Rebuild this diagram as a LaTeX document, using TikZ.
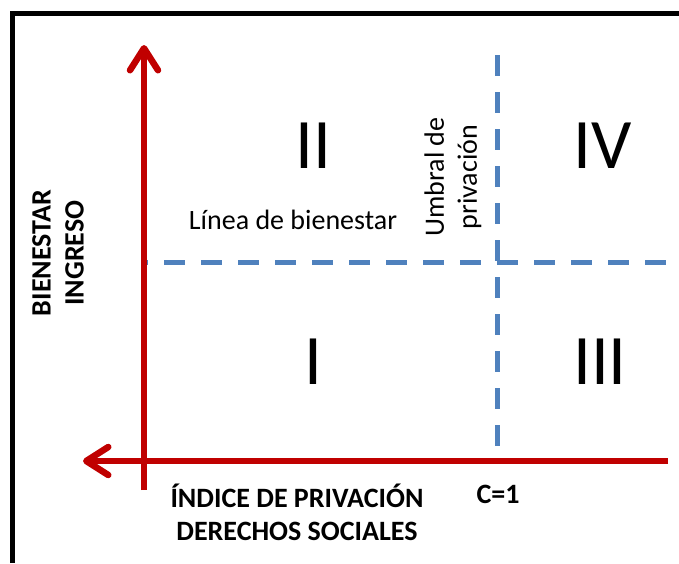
\documentclass[tikz,border=0pt]{standalone}
\usepackage{fontspec}
\setmainfont{Carlito}
\usepackage{tikz}
\usetikzlibrary{arrows.meta}
\definecolor{axisRed}{HTML}{C00000}
\definecolor{lineBlue}{HTML}{4F81BD}
\newcommand{\labelSize}{\fontsize{28}{33}\selectfont}
\newcommand{\romanSize}{\fontsize{71}{80}\selectfont}

\begin{document}
\begin{tikzpicture}[x=1pt, y=-1pt,
		axis/.style={draw=axisRed, line width=6.5pt, -{Straight Barb[length=22pt,width=28pt,round]}},
		threshold/.style={draw=lineBlue, line width=5pt, dash pattern=on 21pt off 16pt},
		quadrant/.style={font=\romanSize, inner sep=0pt},
		plainlabel/.style={font=\labelSize, align=center, inner sep=0pt},
		axislabel/.style={font=\labelSize\bfseries, align=center, inner sep=0pt}]
	\path[use as bounding box, fill=white] (0,0) rectangle (679,563);
	% marco
	\coordinate (frameBL) at (12,563);
	\coordinate (frameTR) at (679,13);
	\draw[line width=5pt] (frameBL) |- (frameTR);
	% umbrales
	\coordinate (umbralTop) at (497,55);
	\coordinate (umbralFoot) at (497,450);
	\coordinate (lineaStart) at (145,262);
	\coordinate (lineaEnd) at (670,262);
	\draw[threshold] (umbralTop) -- (umbralFoot);
	\draw[threshold, dash phase=18pt] (lineaStart) -- (lineaEnd);
	% ejes
	\coordinate (yFoot) at (144,490);
	\coordinate (yTip) at (144,45);
	\coordinate (xEnd) at (668,461);
	\coordinate (xTip) at (83,461);
	\draw[axis] (yFoot) -- (yTip);
	\draw[axis] (xEnd) -- (xTip);
	% cuadrantes
	\node[quadrant] (qI) at (313,362) {I};
	\node[quadrant] (qII) at (313,146) {II};
	\node[quadrant] (qIII) at (600,362) {III};
	\node[quadrant] (qIV) at (603,146) {IV};
	% textos
	\node[plainlabel] (linea) at (293,220) {Línea de bienestar};
	\node[plainlabel, rotate=90] (umbral) at (453,177) {Umbral de\\privación};
	\node[axislabel, rotate=90] (yLabel) at (58,253) {BIENESTAR\\INGRESO};
	\node[axislabel] (xLabel) at (297,512) {ÍNDICE DE PRIVACIÓN\\DERECHOS SOCIALES};
	\node[axislabel] (cLabel) at (498,494) {C=1};
\end{tikzpicture}
\end{document}
